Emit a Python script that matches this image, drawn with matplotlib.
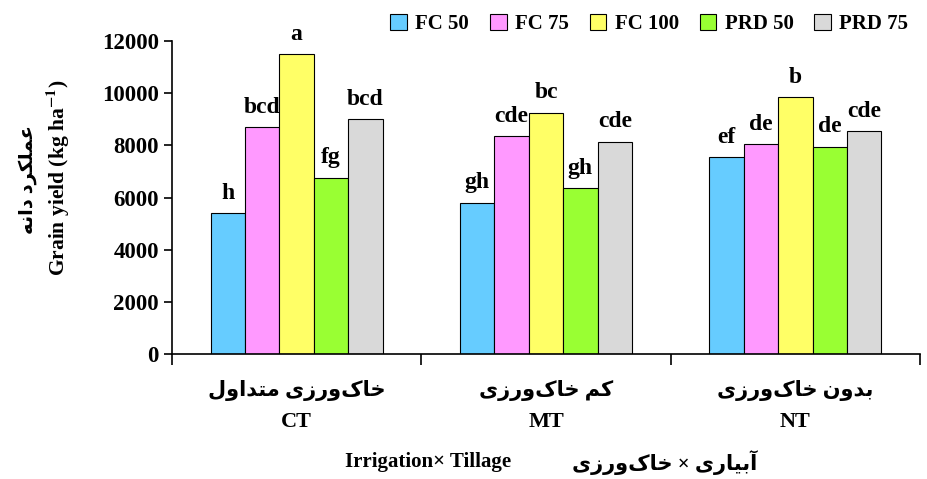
import matplotlib
matplotlib.use("Agg")
import matplotlib.pyplot as plt
import numpy as np

plt.rcParams['font.family'] = ['Liberation Serif', 'DejaVu Sans']
plt.rcParams['font.weight'] = 'bold'
plt.rcParams['mathtext.fontset'] = 'stix'

# data
tillage_fa = ["خاک\u200cورزی متداول", "کم خاک\u200cورزی", "بدون خاک\u200cورزی"]
tillage_en = ["CT", "MT", "NT"]
treatments = ["FC 50", "FC 75", "FC 100", "PRD 50", "PRD 75"]
colors = ["#66ccff", "#ff99ff", "#ffff66", "#99ff33", "#d9d9d9"]
yield_fc50 = [5400, 5800, 7550]
yield_fc75 = [8700, 8350, 8050]
yield_fc100 = [11500, 9250, 9850]
yield_prd50 = [6750, 6350, 7950]
yield_prd75 = [9000, 8150, 8550]
letters_fc50 = ["h", "gh", "ef"]
letters_fc75 = ["bcd", "cde", "de"]
letters_fc100 = ["a", "bc", "b"]
letters_prd50 = ["fg", "gh", "de"]
letters_prd75 = ["bcd", "cde", "cde"]

# simple Persian shaping (matplotlib has no complex text layout)
FORMS = {
    'ع': ('\uFEC9', '\uFECA', '\uFECB', '\uFECC'),
    'م': ('\uFEE1', '\uFEE2', '\uFEE3', '\uFEE4'),
    'ل': ('\uFEDD', '\uFEDE', '\uFEDF', '\uFEE0'),
    'ک': ('\uFB8E', '\uFB8F', '\uFB90', '\uFB91'),
    'ن': ('\uFEE5', '\uFEE6', '\uFEE7', '\uFEE8'),
    'ه': ('\uFEE9', '\uFEEA', '\uFEEB', '\uFEEC'),
    'خ': ('\uFEA5', '\uFEA6', '\uFEA7', '\uFEA8'),
    'ی': ('\uFBFC', '\uFBFD', '\uFBFE', '\uFBFF'),
    'ت': ('\uFE95', '\uFE96', '\uFE97', '\uFE98'),
    'ب': ('\uFE8F', '\uFE90', '\uFE91', '\uFE92'),
    'ر': ('\uFEAD', '\uFEAE'),
    'د': ('\uFEA9', '\uFEAA'),
    'ا': ('\uFE8D', '\uFE8E'),
    'و': ('\uFEED', '\uFEEE'),
    'ز': ('\uFEAF', '\uFEB0'),
    'آ': ('\uFE81', '\uFE82'),
}


def fa(s):
    out = []
    for i, c in enumerate(s):
        if c not in FORMS:
            if c != '\u200c':
                out.append(c)
            continue
        prev = s[i - 1] if i > 0 else ''
        nxt = s[i + 1] if i + 1 < len(s) else ''
        p = prev in FORMS and len(FORMS[prev]) == 4
        n = nxt in FORMS and len(FORMS[c]) == 4
        f = FORMS[c]
        if p and n:
            out.append(f[3])
        elif p:
            out.append(f[1])
        elif n:
            out.append(f[2])
        else:
            out.append(f[0])
    return ''.join(out)[::-1]


series = [yield_fc50, yield_fc75, yield_fc100, yield_prd50, yield_prd75]
letters = [letters_fc50, letters_fc75, letters_fc100, letters_prd50, letters_prd75]

fig = plt.figure(figsize=(9.27, 4.79), dpi=100)
ax = fig.add_axes([0.1855, 0.261, 0.807, 0.653])

x = np.arange(len(tillage_en))
w = 0.138
for i, (vals, lab) in enumerate(zip(series, letters)):
    xs = x + (i - 2) * w
    ax.bar(xs, vals, w, color=colors[i], edgecolor='black', linewidth=0.8,
           label=treatments[i])
    for xi, v, l in zip(xs, vals, lab):
        ax.text(xi, v + 560, l, ha='center', va='baseline', fontsize=17,
                fontweight='bold')

ax.set_xlim(-0.5, 2.5)
ax.set_ylim(0, 12000)
ax.set_yticks(np.arange(0, 12001, 2000))
ax.tick_params(axis='y', labelsize=16.5, direction='out', length=6, width=1.2)
for t in ax.get_yticklabels():
    t.set_fontweight('bold')
ax.set_xticks([-0.5, 0.5, 1.5, 2.5])
ax.set_xticklabels([])
ax.tick_params(axis='x', direction='out', length=8, width=1.2)
for s in ['top', 'right']:
    ax.spines[s].set_visible(False)
for s in ['left', 'bottom']:
    ax.spines[s].set_linewidth(1.2)

for xi, f, e in zip(x, tillage_fa, tillage_en):
    ax.text(xi, -1400, fa(f), ha='center', va='center', fontsize=15,
            fontweight='bold')
    ax.text(xi, -2600, e, ha='center', va='center', fontsize=16,
            fontweight='bold')

fig.text(0.462, 0.035, "Irrigation\u00d7 Tillage", ha='center', va='center',
         fontsize=15, fontweight='bold')
fig.text(0.717, 0.035, fa("آبیاری × خاک\u200cورزی"), ha='center', va='center',
         fontsize=15, fontweight='bold')

fig.text(0.030, 0.625, fa("عملکرد دانه"), rotation=90, ha='center', va='center',
         fontsize=14, fontweight='bold')
fig.text(0.062, 0.628, "Grain yield (kg ha$^{\\mathbf{-1}}$)", rotation=90,
         ha='center', va='center', fontsize=15.5, fontweight='bold')

fig.legend(loc='upper right', bbox_to_anchor=(1.0, 1.01), ncol=5, frameon=False,
           fontsize=15, handlelength=0.8, handleheight=0.8, handletextpad=0.4,
           columnspacing=1.0)

fig.savefig("out.png", dpi=100)
